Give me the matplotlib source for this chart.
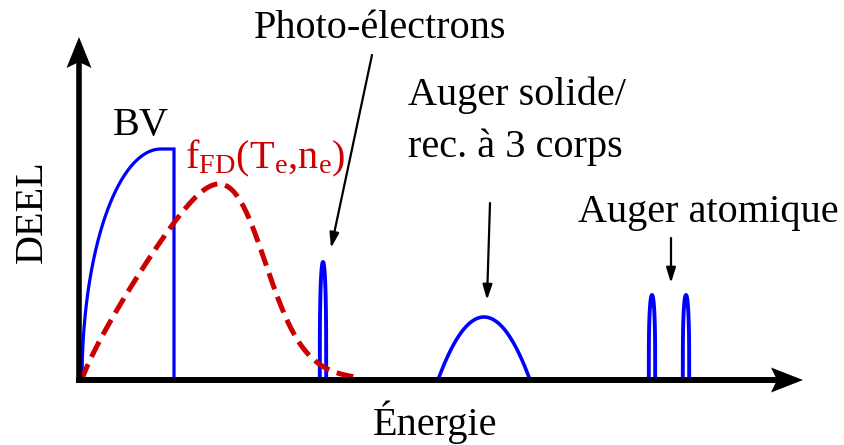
import numpy as np
import matplotlib
matplotlib.use("Agg")
import matplotlib.pyplot as plt
from matplotlib.patches import Polygon

plt.rcParams['font.family'] = ['Liberation Serif', 'DejaVu Serif']
plt.rcParams['mathtext.fontset'] = 'custom'
plt.rcParams['mathtext.rm'] = 'Liberation Serif'
plt.rcParams['mathtext.it'] = 'Liberation Serif'
plt.rcParams['mathtext.default'] = 'regular'

# ---- schematic data (energy units ~ arbitrary, origin at axis corner) ----
# valence band (BV)
bv_start, bv_top_x, bv_end, bv_height = 3, 82, 95, 231
# Fermi-Dirac-like electron distribution
fd_start, fd_end, fd_peak_height, fd_mu, fd_kT, fd_power = 3, 277, 196, 176, 20, 0.85
# narrow peaks: photo-electrons, Auger atomique (2 lines)
peak_centers = [244, 573, 607]
peak_heights = [118, 85, 85]
peak_halfwidth = [3.2, 3.2, 3.2]
# broad Auger solide / 3-body recombination bump
bump_center, bump_halfwidth, bump_height = 405, 46, 63

labels = {
    'photo': 'Photo-électrons',
    'solide1': 'Auger solide/',
    'solide2': 'rec. à 3 corps',
    'atom': 'Auger atomique',
    'bv': 'BV',
    'fd': 'f$_{FD}$(T$_e$,n$_e$)',
    'x': 'Énergie',
    'y': 'DEEL',
}

BLUE = '#0000ff'
RED = '#cc0000'
FS = 29

fig = plt.figure(figsize=(8.44, 4.45), dpi=100)
ax = fig.add_axes([0, 0, 1, 1])
ax.set_xlim(-79, 765)
ax.set_ylim(-65, 380)
ax.axis('off')

# BV: quarter ellipse, plateau, vertical edge
t = np.linspace(0, 1, 200)
xb = bv_start + t * (bv_top_x - bv_start)
yb = bv_height * np.sqrt(np.clip(1 - (1 - t) ** 2, 0, 1))
xb = np.concatenate([xb, [bv_end, bv_end]])
yb = np.concatenate([yb, [bv_height, 0]])
ax.plot(xb, yb, color=BLUE, lw=2.3, solid_joinstyle='miter', zorder=3)

# FD distribution
xf = np.linspace(fd_start, fd_end, 400)
X = xf - fd_start
yf = X ** fd_power / (1 + np.exp((X - fd_mu) / fd_kT))
yf = yf / yf.max() * fd_peak_height
ax.plot(xf, yf, color=RED, lw=3.6, linestyle=(0, (3.4, 1.6)), zorder=4)

# narrow peaks
for c, h, w in zip(peak_centers, peak_heights, peak_halfwidth):
    tt = np.linspace(-1, 1, 101)
    ax.plot(c + w * tt, h * np.sqrt(1 - tt ** 2) ** 0.6, color=BLUE, lw=2.8, zorder=3)

# broad bump
tt = np.linspace(-1, 1, 200)
ax.plot(bump_center + bump_halfwidth * tt, bump_height * (1 - tt ** 2), color=BLUE, lw=2.6, zorder=3)

# axes with stealth arrowheads
ax.plot([0, 0], [-3, 320], color='k', lw=4, solid_capstyle='butt', zorder=5)
ax.plot([-3, 700], [0, 0], color='k', lw=4.3, solid_capstyle='butt', zorder=5)
ax.add_patch(Polygon([[0, 343], [-12.5, 312], [0, 318], [12.5, 312]], closed=True,
                     color='k', lw=0, zorder=6))
ax.add_patch(Polygon([[724, 0], [692, 12.5], [698, 0], [692, -12.5]], closed=True,
                     color='k', lw=0, zorder=6))

# annotation arrows
ap = dict(arrowstyle='-|>,head_length=0.9,head_width=0.28', color='k', lw=1.6,
          shrinkA=0, shrinkB=0)
ax.annotate('', xy=(252, 132), xytext=(293, 325), arrowprops=ap)
ax.annotate('', xy=(408, 80), xytext=(411, 177), arrowprops=ap)
ax.annotate('', xy=(592, 97), xytext=(592, 142), arrowprops=ap)

# texts
ax.text(301, 342, labels['photo'], fontsize=FS, ha='center', va='baseline')
ax.text(329, 275, labels['solide1'], fontsize=FS, ha='left', va='baseline')
ax.text(329, 223, labels['solide2'], fontsize=FS, ha='left', va='baseline')
ax.text(499, 158, labels['atom'], fontsize=FS, ha='left', va='baseline')
ax.text(34, 245, labels['bv'], fontsize=FS, ha='left', va='baseline')
ax.text(106, 212, labels['fd'], fontsize=FS, ha='left', va='baseline', color=RED)
ax.text(356, -55, labels['x'], fontsize=FS, ha='center', va='baseline')
ax.text(-37, 168, labels['y'], fontsize=FS, ha='center', va='baseline',
        rotation=90, rotation_mode='anchor')

fig.savefig('out.png', dpi=100)
